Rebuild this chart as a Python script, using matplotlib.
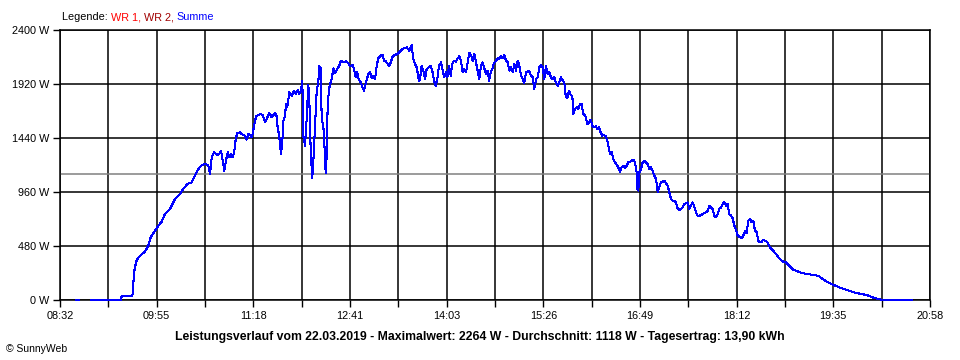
import numpy as np
import matplotlib
matplotlib.use("Agg")
import matplotlib.pyplot as plt

# time in minutes after midnight, power of the sum (Summe) in W
minutes = [
    525.7, 528.3, np.nan,
    538.6, 564.3, 564.9, 573.5, 574.3, 575.5, 577.2, 578.3, 580.6, 584.9,
    587.7, 589.8, 593.5, 596.3, 599.2, 602.0, 606.3, 610.6, 614.9, 617.7,
    621.2, 624.9, 626.9, 630.6, 633.5, 637.2, 639.2, 640.6, 642.1, 644.1,
    646.4, 648.6, 650.1, 651.5, 652.9, 654.3, 655.8, 657.2, 658.6, 660.1,
    661.5, 662.7, 664.0, 666.3, 668.7, 670.6, 672.1, 673.5, 674.9, 676.4,
    677.2, 678.4, 680.1, 682.0, 683.5, 685.8, 687.8, 689.2, 691.5, 693.5,
    694.9, 696.4, 697.8, 698.7, 699.8, 700.6, 701.5, 702.6, 703.5, 704.9,
    705.8, 706.9, 708.6, 710.7, 712.6, 714.4, 715.8, 717.2, 718.4, 719.8,
    720.6, 722.1, 723.5, 724.9, 725.8, 727.0, 728.3, 729.2, 730.7, 732.1,
    733.5, 734.3, 735.5, 736.4, 737.8, 739.2, 739.8, 740.7, 741.5, 742.7,
    744.1, 745.0, 746.4, 747.8, 749.8, 751.5, 752.7, 754.9, 757.2, 759.2,
    760.7, 763.0, 764.4, 765.6, 766.9, 768.1, 769.8, 771.6, 772.7, 774.4,
    776.4, 777.8, 779.3, 780.7, 782.1, 783.6, 784.9, 787.0, 788.7, 789.8,
    791.5, 793.0, 794.4, 795.6, 797.3, 799.3, 801.2, 802.9, 805.0, 807.0,
    809.3, 811.5, 813.6, 814.9, 816.4, 817.9, 819.8, 820.7, 822.1, 823.5,
    825.0, 826.4, 828.4, 829.9, 831.2, 832.7, 834.2, 835.5, 837.0, 838.7,
    840.2, 841.3, 843.0, 844.1, 845.6, 847.0, 848.4, 849.8, 851.6, 853.0,
    854.4, 855.8, 857.3, 858.7, 860.1, 861.6, 863.0, 864.4, 865.9, 867.3,
    868.7, 870.2, 871.5, 873.0, 874.5, 875.8, 877.3, 878.7, 879.9, 881.3,
    882.7, 884.1, 885.9, 887.3, 888.7, 890.1, 891.6, 893.0, 894.4, 895.9,
    897.3, 898.7, 900.2, 901.6, 903.0, 904.5, 905.8, 907.3, 908.8, 910.1,
    911.6, 913.0, 914.4, 915.9, 917.3, 918.7, 920.2, 921.6, 923.0, 924.4,
    925.9, 927.3, 928.7, 930.2, 931.6, 933.0, 934.5, 935.9, 937.3, 938.8,
    940.1, 941.6, 943.1, 944.4, 945.6, 947.0, 948.5, 949.9, 951.3, 952.1,
    953.6, 955.1, 956.4, 957.9, 959.3, 960.7, 962.2, 963.0, 964.1, 965.6,
    967.1, 968.4, 969.9, 971.3, 972.7, 974.2, 975.6, 977.0, 978.5, 979.9,
    981.3, 982.8, 983.6, 985.1, 986.4, 987.9, 989.4, 990.7, 992.2, 993.6,
    995.0, 996.5, 997.9, 999.3, 1000.8, 1002.2, 1003.6, 1005.0, 1006.5, 1007.0,
    1007.9, 1008.7, 1010.2, 1011.6, 1013.0, 1014.5, 1015.9, 1017.3, 1018.8, 1020.2,
    1021.6, 1023.1, 1024.5, 1025.9, 1027.3, 1028.8, 1030.2, 1031.6, 1033.1, 1034.5,
    1035.9, 1037.4, 1038.7, 1040.2, 1041.7, 1043.0, 1044.5, 1046.0, 1047.3, 1048.8,
    1050.2, 1051.6, 1053.1, 1054.5, 1055.9, 1057.4, 1058.8, 1060.2, 1061.6, 1063.1,
    1064.5, 1065.9, 1067.4, 1068.8, 1070.2, 1071.7, 1073.0, 1074.5, 1076.0, 1077.3,
    1078.8, 1080.3, 1081.6, 1083.1, 1084.5, 1085.9, 1087.4, 1088.8, 1090.2, 1091.7,
    1093.1, 1095.1, 1096.5, 1097.9, 1099.4, 1100.8, 1102.2, 1103.7, 1105.1, 1106.5,
    1107.9, 1109.4, 1110.8, 1112.2, 1113.7, 1115.1, 1116.5, 1118.0, 1119.4, 1120.8,
    1122.3, 1123.6, 1125.1, 1126.6, 1127.9, 1129.4, 1130.8, 1132.2, 1133.7, 1135.1,
    1136.5, 1138.0, 1139.4, 1140.8, 1143.7, 1146.5, 1149.4, 1152.3, 1155.1, 1157.9,
    1162.2, 1165.1, 1168.0, 1170.8, 1173.7, 1178.0, 1182.3, 1186.6, 1190.9, 1195.1,
    1199.4, 1203.7, 1206.6, 1209.4, 1212.3, 1215.1, 1217.4, 1242.3,
]
summe_w = [
    0, 0, np.nan,
    0, 0, 38, 38, 53, 246, 335, 364, 394, 430,
    483, 557, 616, 661, 696, 764, 809, 898, 942, 987,
    1031, 1046, 1091, 1164, 1200, 1209, 1194, 1120, 1268, 1313,
    1289, 1298, 1327, 1238, 1149, 1238, 1313, 1268, 1298, 1268,
    1327, 1431, 1484, 1490, 1467, 1461, 1425, 1476, 1467, 1446,
    1476, 1549, 1632, 1644, 1653, 1644, 1579, 1609, 1662, 1624,
    1644, 1662, 1632, 1520, 1476, 1387, 1298, 1402, 1594, 1632,
    1742, 1713, 1846, 1816, 1860, 1831, 1869, 1831, 1852, 1949,
    1461, 1372, 1609, 1911, 1772, 1313, 1082, 1224, 1549, 1860,
    1935, 2077, 2068, 1609, 1549, 1283, 1129, 1283, 1727, 1876,
    1935, 1964, 2059, 2018, 2053, 2083, 2127, 2112, 2121, 2107,
    2077, 2089, 2038, 1979, 2024, 1964, 1935, 1882, 1860, 1935,
    2009, 2024, 1970, 1994, 1964, 2083, 2148, 2172, 2181, 2127,
    2121, 2098, 2083, 2112, 2166, 2178, 2187, 2201, 2225, 2237,
    2246, 2216, 2264, 2142, 2098, 2068, 1950, 1964, 2083, 2038,
    1964, 2053, 2068, 2083, 2038, 1950, 1905, 1964, 2083, 2112,
    2038, 1979, 2024, 1979, 2083, 1994, 2098, 2127, 2118, 2148,
    2166, 2127, 2024, 2053, 2024, 2112, 2196, 2178, 2127, 2187,
    2112, 2029, 1964, 2083, 2112, 2059, 2009, 2038, 1950, 2024,
    2053, 2107, 2127, 2148, 2142, 2172, 2148, 2178, 2127, 2112,
    2038, 2068, 2024, 2098, 2038, 2128, 2083, 1994, 1964, 1929,
    2024, 2029, 2038, 1994, 1979, 1876, 1964, 1979, 2068, 2089,
    2068, 1964, 2083, 2009, 2024, 1979, 1964, 1979, 1929, 1905,
    1935, 1979, 1950, 1935, 1816, 1793, 1860, 1822, 1816, 1653,
    1698, 1713, 1698, 1742, 1742, 1653, 1644, 1615, 1564, 1579,
    1603, 1549, 1535, 1544, 1520, 1535, 1490, 1461, 1467, 1455,
    1416, 1342, 1298, 1318, 1253, 1224, 1200, 1179, 1135, 1179,
    1194, 1170, 1194, 1224, 1230, 1238, 1247, 1224, 1135, 987,
    972, 1135, 1164, 1224, 1238, 1224, 1209, 1164, 1179, 1149,
    1105, 1076, 957, 1002, 1046, 1052, 1061, 1040, 1016, 957,
    898, 883, 883, 868, 809, 800, 809, 824, 853, 862,
    868, 809, 838, 868, 824, 779, 749, 749, 755, 764,
    773, 779, 794, 838, 824, 809, 749, 735, 764, 809,
    824, 853, 874, 838, 853, 764, 749, 726, 661, 625,
    572, 557, 548, 572, 616, 595, 705, 720, 690, 705,
    616, 601, 527, 512, 518, 536, 527, 518, 498, 468,
    453, 438, 418, 400, 379, 364, 349, 341, 341, 329,
    311, 299, 281, 270, 258, 246, 237, 231, 228, 222,
    216, 193, 172, 157, 142, 122, 104, 89, 74, 62,
    53, 44, 33, 21, 12, 6, 0, 0,
]

x_labels = ["08:32", "09:55", "11:18", "12:41", "14:03",
            "15:26", "16:49", "18:12", "19:35", "20:58"]
y_ticks = [0, 480, 960, 1440, 1920, 2400]
t_start, t_end = 512, 1258
durchschnitt = 1118

plt.rcParams["font.family"] = ["Liberation Sans", "DejaVu Sans"]

fig = plt.figure(figsize=(9.6, 3.6), dpi=100)
ax = fig.add_axes([60 / 960, 60 / 360, 870 / 960, 270 / 360])

grid_pos = np.linspace(t_start, t_end, 19)
tick_text = []
for k in range(19):
    tick_text.append(x_labels[k // 2] if k % 2 == 0 else "")
ax.set_xlim(t_start, t_end)
ax.set_ylim(0, 2400)
ax.set_xticks(grid_pos)
ax.set_xticklabels(tick_text)
ax.set_yticks(y_ticks)
ax.set_yticklabels(["%d W" % v for v in y_ticks])
ax.tick_params(axis="both", length=5, width=1, color="black", labelsize=7.8, pad=3)

for g in grid_pos:
    ax.axvline(g, color="black", lw=1.1, zorder=1)
for v in y_ticks:
    ax.axhline(v, color="black", lw=1.1, zorder=1)
ax.axhline(durchschnitt, color="#808080", lw=1.1, zorder=2)

ax.plot(minutes, summe_w, color="#0000FF", lw=0.75, zorder=5,
        antialiased=False, clip_on=False)

for s in ax.spines.values():
    s.set_color("black")
    s.set_linewidth(1.1)

# legend line at the top
fs = 7.8
t = fig.text(62 / 960, 1 - 17 / 360, "Legende: ", color="black", fontsize=fs, va="center")
parts = [("WR 1, ", "#FF0000"), ("WR 2, ", "#A00000"), ("Summe", "#0000FF")]
fig.canvas.draw()
r = fig.canvas.get_renderer()
x0 = t.get_window_extent(r).x1
for txt, col in parts:
    tt = fig.text(x0 / 960, 1 - 17 / 360, txt, color=col, fontsize=fs, va="center")
    x0 = tt.get_window_extent(r).x1

fig.text(480 / 960, 1 - 337 / 360,
         "Leistungsverlauf vom 22.03.2019 - Maximalwert: 2264 W - Durchschnitt: 1118 W - Tagesertrag: 13,90 kWh",
         ha="center", va="center", fontsize=8.8, fontweight="bold")
fig.text(6 / 960, 1 - 349 / 360, "\u00a9 SunnyWeb", ha="left", va="center", fontsize=7.5)

fig.savefig("out.png", dpi=100)
